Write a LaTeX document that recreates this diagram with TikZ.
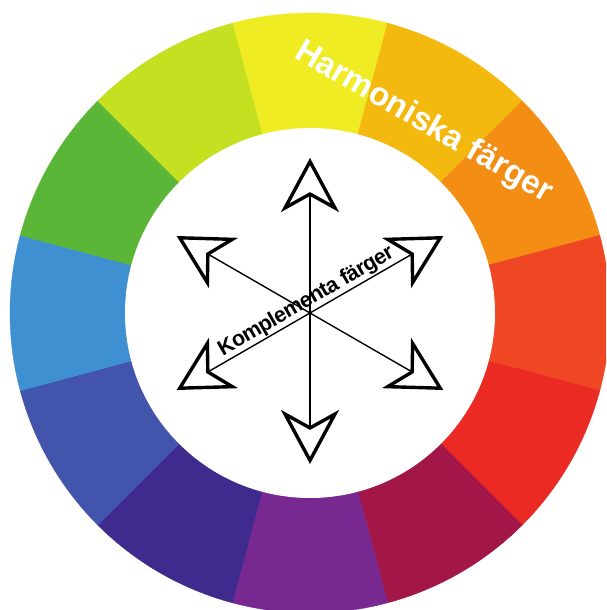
\documentclass[tikz,border=0pt]{standalone}
\usepackage{fontspec}
\setsansfont{Liberation Sans}
\usepackage{xcolor}
\usepackage{tikz}
\usetikzlibrary{arrows.meta}
\definecolor{gul}{HTML}{F0EC23}
\definecolor{gulorange}{HTML}{F3B90E}
\definecolor{orange}{HTML}{F38D14}
\definecolor{rodorange}{HTML}{EF4623}
\definecolor{rod}{HTML}{EB2A24}
\definecolor{vinrod}{HTML}{A21748}
\definecolor{lila}{HTML}{772891}
\definecolor{indigo}{HTML}{3F2B8E}
\definecolor{blalila}{HTML}{4254AC}
\definecolor{bla}{HTML}{3E90D0}
\definecolor{gron}{HTML}{5BB536}
\definecolor{gulgron}{HTML}{C4E020}

\begin{document}
\begin{tikzpicture}[x=1pt,y=1pt,>={Stealth[open,length=54pt,width=58pt,inset=16pt,line width=3.4pt]},
seg/.style={fill=#1,draw=#1,line width=0.4pt},
pil/.style={->,line width=1.4pt}]
\useasboundingbox(-310,-297)rectangle(296,313);
\clip(-310,-297)rectangle(296,313);
\foreach \a/\c in {90/gul,60/gulorange,30/orange,0/rodorange,-30/rod,-60/vinrod,
-90/lila,-120/indigo,-150/blalila,180/bla,150/gron,120/gulgron}
\filldraw[seg=\c](0,0)--(\a-15:300)arc[start angle=\a-15,end angle=\a+15,radius=300]--cycle;
\fill[white](0,0)circle[radius=185];
\node[rotate=-30,anchor=base west,inner sep=0pt,text=white,font=\sffamily\bfseries\fontsize{33}{38}\selectfont](harm)at(-17,256){Harmoniska färger};
\coordinate(c)at(0,0);
\coordinate(n)at(90:155);
\coordinate(ne)at(30:154);
\coordinate(se)at(-30:154);
\coordinate(s)at(-90:151);
\coordinate(sw)at(-150:154);
\coordinate(nw)at(150:154);
\draw[pil](c)--(n);
\draw[pil](c)--(ne);
\draw[pil](c)--(se);
\draw[pil](c)--(s);
\draw[pil](c)--(sw);
\draw[pil](c)--(nw);
\node[rotate=30,anchor=base,inner sep=0pt,font=\sffamily\bfseries\fontsize{21.5}{26}\selectfont\addfontfeature{LetterSpace=-3}](komp)at(-1,6.5){Komplementa färger};
\end{tikzpicture}
\end{document}
